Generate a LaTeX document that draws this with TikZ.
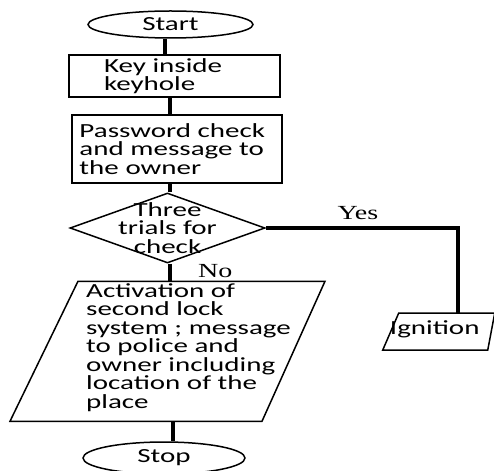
\documentclass[tikz,border=0pt]{standalone}
\usepackage{fontspec}
\setmainfont{Carlito}[FakeStretch=1.45]
\newfontfamily\tagfont{Liberation Serif}[FakeStretch=1.4]
\usetikzlibrary{shapes.geometric, positioning}

\begin{document}
\begin{tikzpicture}[
    x=1pt, y=1pt,
    font=\fontsize{20}{18.5}\selectfont,
    every node/.style={line width=1.5pt},
    oval/.style={draw, ellipse, minimum width=165pt, minimum height=27pt, inner sep=0pt},
    box/.style={draw, rectangle, align=left, inner ysep=0pt},
    decision/.style={draw, diamond, minimum width=195pt, minimum height=70pt, inner sep=0pt},
    io/.style={rectangle, inner sep=0pt, outer sep=0pt},
    outline/.style={line width=1.5pt, line join=miter},
    link/.style={line width=3.5pt},
    tag/.style={font=\tagfont\fontsize{20}{18.5}\selectfont}
]
\useasboundingbox (-170.5,24.5) rectangle (323.5,-445.5);

\node (start) [oval] {Start\hspace{19pt}};
\node (key) [box, below=15.5pt of start, xshift=4pt, text width=141pt, inner xsep=35pt, minimum height=42pt] {Key inside\\keyhole};
\node (pass) [box, below=16.5pt of key, xshift=2.5pt, text width=195pt, inner xsep=7.5pt, minimum height=68pt] {Password check\\and message to\\the owner};
\node (trial) [decision, below=8.5pt of pass, xshift=-9.5pt, label={[align=center]center:{Three\\trials for\\check}}] {};
\node (act) [io, below=17.5pt of trial, minimum width=315pt, minimum height=140pt,
    label={[xshift=21pt, yshift=4pt, align=left]center:{Activation of\\second lock\\system ; message\\to police and\\owner including\\location of the\\place}}] {};
\node (stop) [oval, below=20pt of act, xshift=-3.5pt, minimum width=162pt, minimum height=32pt] {Stop\hspace{59pt}};
\node (ign) [io, below=85pt of trial.east, xshift=173pt, minimum width=112pt, minimum height=37pt,
    label={[xshift=-4pt, yshift=2pt]center:Ignition}] {};

% slanted boxes
\draw[outline] ([xshift=68pt]act.north west) -- (act.north east) -- ([xshift=-63pt]act.south east) -- (act.south west) -- cycle;
\draw[outline] ([xshift=16pt]ign.north west) -- (ign.north east) -- ([xshift=-7pt]ign.south east) -- (ign.south west) -- cycle;

\draw[link] ([xshift=-5.5pt]start.south) -- ([xshift=-5.5pt]start.south |- key.north);
\draw[link] ([xshift=-4.5pt]key.south) -- ([xshift=-4.5pt]key.south |- pass.north);
\draw[link] ([xshift=-7pt]pass.south) -- ([xshift=-7pt]pass.south |- trial.north);
\draw[link] ([xshift=2.5pt]trial.south) -- ([xshift=2.5pt]trial.south |- act.north) node (no) [tag, pos=0.4, right=24pt] {No};
\draw[link] ([xshift=5.5pt]act.south) -- ([xshift=5.5pt]act.south |- stop.north);
\draw[link] (trial.east) -| node (yes) [tag, pos=0.24, above=4pt] {Yes} ([xshift=19pt]ign.north);
\end{tikzpicture}
\end{document}
